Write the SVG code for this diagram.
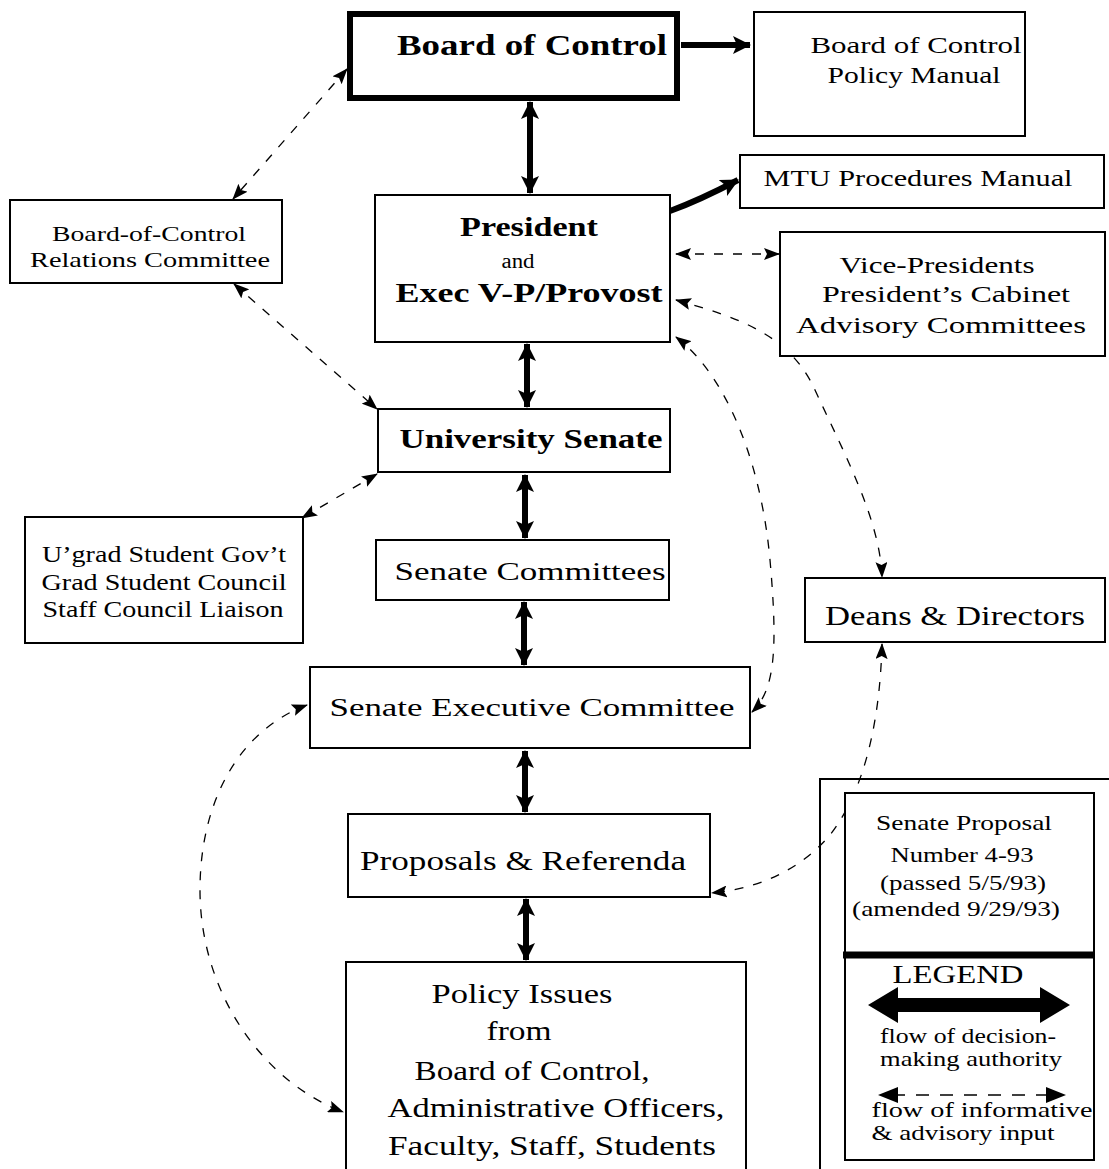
<svg xmlns="http://www.w3.org/2000/svg" width="1109" height="1169" viewBox="0 0 1109 1169">
<style>
.box{fill:#fff;stroke:#000;stroke-width:2}
.t{font-family:"Liberation Serif","Times New Roman",serif;fill:#000;text-anchor:middle}
.b{font-weight:bold}
.thick{fill:none;stroke:#000;stroke-width:6}
.dash{fill:none;stroke:#000;stroke-width:1.3;stroke-dasharray:9 10}
</style>
<defs>
<marker id="ah" viewBox="0 0 18 18" refX="17" refY="9" markerWidth="18" markerHeight="18" markerUnits="userSpaceOnUse" orient="auto-start-reverse">
<path d="M0,0 L18,9 L0,18 L4,9 z" fill="#000"/>
</marker>
<marker id="dh" viewBox="0 0 16 12" refX="15" refY="6" markerWidth="16" markerHeight="12" markerUnits="userSpaceOnUse" orient="auto-start-reverse">
<path d="M0,0 L16,6 L0,12 L3,6 z" fill="#000"/>
</marker>
</defs>
<rect width="1109" height="1169" fill="#fff"/>

<g id="connectors">
<path class="thick" d="M681,45 L750,45" marker-end="url(#ah)"/>
<path class="thick" d="M530,102 L530,193" marker-start="url(#ah)" marker-end="url(#ah)"/>
<path class="thick" d="M670,211 Q700,200 738,180" marker-end="url(#ah)"/>
<path class="thick" d="M527,344 L527,407" marker-start="url(#ah)" marker-end="url(#ah)"/>
<path class="thick" d="M525,475 L525,538" marker-start="url(#ah)" marker-end="url(#ah)"/>
<path class="thick" d="M524,602 L524,665" marker-start="url(#ah)" marker-end="url(#ah)"/>
<path class="thick" d="M525,751 L525,812" marker-start="url(#ah)" marker-end="url(#ah)"/>
<path class="thick" d="M526,899 L526,960" marker-start="url(#ah)" marker-end="url(#ah)"/>
<path class="dash" d="M347,69 L233,199" marker-start="url(#dh)" marker-end="url(#dh)"/>
<path class="dash" d="M234,284 L377,409" marker-start="url(#dh)" marker-end="url(#dh)"/>
<path class="dash" d="M377,474 L302,518" marker-start="url(#dh)" marker-end="url(#dh)"/>
<path class="dash" d="M676,254 L779,254" marker-start="url(#dh)" marker-end="url(#dh)"/>
<path class="dash" d="M676,300 C740,318 790,335 815,390 C845,455 880,520 882,577" marker-start="url(#dh)" marker-end="url(#dh)"/>
<path class="dash" d="M676,337 C720,370 760,450 770,560 C778,650 775,690 752,712" marker-start="url(#dh)" marker-end="url(#dh)"/>
<path class="dash" d="M307,705 C240,730 200,800 200,890 C200,990 260,1080 343,1112" marker-start="url(#dh)" marker-end="url(#dh)"/>
<path class="dash" d="M882,644 C880,720 865,790 830,835 C800,870 760,888 712,893" marker-start="url(#dh)" marker-end="url(#dh)"/>
</g>

<g id="board">
<rect x="350" y="14" width="327" height="84" fill="#fff" stroke="#000" stroke-width="6"/>
<text class="t b" x="532" y="55" font-size="30" textLength="270" lengthAdjust="spacingAndGlyphs">Board of Control</text>
</g>
<g id="policy-manual">
<rect class="box" x="754" y="12" width="271" height="124"/>
<text class="t" x="916" y="53" font-size="24" textLength="211" lengthAdjust="spacingAndGlyphs">Board of Control</text>
<text class="t" x="914" y="83" font-size="24" textLength="173" lengthAdjust="spacingAndGlyphs">Policy Manual</text>
</g>
<g id="mtu-manual">
<rect class="box" x="740" y="155" width="364" height="53"/>
<text class="t" x="918" y="186" font-size="24" textLength="309" lengthAdjust="spacingAndGlyphs">MTU  Procedures  Manual</text>
</g>
<g id="relations">
<rect class="box" x="10" y="200" width="272" height="83"/>
<text class="t" x="149" y="241" font-size="22" textLength="194" lengthAdjust="spacingAndGlyphs">Board-of-Control</text>
<text class="t" x="150" y="267" font-size="22" textLength="240" lengthAdjust="spacingAndGlyphs">Relations  Committee</text>
</g>
<g id="president">
<rect class="box" x="375" y="195" width="295" height="147"/>
<text class="t b" x="529" y="236" font-size="28" textLength="138" lengthAdjust="spacingAndGlyphs">President</text>
<text class="t" x="518" y="268" font-size="20" textLength="33" lengthAdjust="spacingAndGlyphs">and</text>
<text class="t b" x="529" y="302" font-size="28" textLength="267" lengthAdjust="spacingAndGlyphs">Exec  V-P/Provost</text>
</g>
<g id="vice-presidents">
<rect class="box" x="780" y="232" width="325" height="124"/>
<text class="t" x="937" y="273" font-size="24" textLength="195" lengthAdjust="spacingAndGlyphs">Vice-Presidents</text>
<text class="t" x="946" y="302" font-size="24" textLength="248" lengthAdjust="spacingAndGlyphs">President’s  Cabinet</text>
<text class="t" x="941" y="333" font-size="24" textLength="290" lengthAdjust="spacingAndGlyphs">Advisory    Committees</text>
</g>
<g id="university-senate">
<rect class="box" x="378" y="409" width="292" height="63"/>
<text class="t b" x="531" y="448" font-size="28" textLength="263" lengthAdjust="spacingAndGlyphs">University  Senate</text>
</g>
<g id="student-gov">
<rect class="box" x="25" y="517" width="278" height="126"/>
<text class="t" x="164" y="562" font-size="23" textLength="244" lengthAdjust="spacingAndGlyphs">U’grad Student Gov’t</text>
<text class="t" x="164" y="590" font-size="23" textLength="245" lengthAdjust="spacingAndGlyphs">Grad Student Council</text>
<text class="t" x="163" y="617" font-size="23" textLength="241" lengthAdjust="spacingAndGlyphs">Staff Council Liaison</text>
</g>
<g id="senate-committees">
<rect class="box" x="376" y="540" width="293" height="60"/>
<text class="t" x="530" y="580" font-size="25" textLength="271" lengthAdjust="spacingAndGlyphs">Senate  Committees</text>
</g>
<g id="deans">
<rect class="box" x="805" y="578" width="300" height="64"/>
<text class="t" x="955" y="625" font-size="27" textLength="260" lengthAdjust="spacingAndGlyphs">Deans &amp; Directors</text>
</g>
<g id="senate-exec">
<rect class="box" x="310" y="667" width="440" height="81"/>
<text class="t" x="532" y="716" font-size="25" textLength="405" lengthAdjust="spacingAndGlyphs">Senate  Executive  Committee</text>
</g>
<g id="proposals">
<rect class="box" x="348" y="814" width="362" height="83"/>
<text class="t" x="523" y="870" font-size="27" textLength="326" lengthAdjust="spacingAndGlyphs">Proposals  &amp;  Referenda</text>
</g>
<g id="policy-issues">
<rect class="box" x="346" y="962" width="400" height="220"/>
<text class="t" x="522" y="1003" font-size="27" textLength="181" lengthAdjust="spacingAndGlyphs">Policy Issues</text>
<text class="t" x="519" y="1040" font-size="27" textLength="65" lengthAdjust="spacingAndGlyphs">from</text>
<text class="t" x="532" y="1080" font-size="27" textLength="235" lengthAdjust="spacingAndGlyphs">Board of Control,</text>
<text class="t" x="556" y="1117" font-size="27" textLength="337" lengthAdjust="spacingAndGlyphs">Administrative  Officers,</text>
<text class="t" x="552" y="1155" font-size="27" textLength="328" lengthAdjust="spacingAndGlyphs">Faculty,  Staff,  Students</text>
</g>
<g id="legend">
<rect x="820" y="779" width="300" height="400" fill="none" stroke="#000" stroke-width="2"/>
<rect class="box" x="845" y="793" width="249" height="367"/>
<line x1="843" y1="955" x2="1095" y2="955" stroke="#000" stroke-width="7"/>
<text class="t" x="964" y="830" font-size="22" textLength="176" lengthAdjust="spacingAndGlyphs">Senate Proposal</text>
<text class="t" x="962" y="862" font-size="22" textLength="143" lengthAdjust="spacingAndGlyphs">Number 4-93</text>
<text class="t" x="963" y="890" font-size="22" textLength="166" lengthAdjust="spacingAndGlyphs">(passed 5/5/93)</text>
<text class="t" x="956" y="916" font-size="22" textLength="208" lengthAdjust="spacingAndGlyphs">(amended 9/29/93)</text>
<text class="t" x="958" y="983" font-size="25" textLength="131" lengthAdjust="spacingAndGlyphs">LEGEND</text>
<path d="M868,1005 L898,987 L898,998 L1040,998 L1040,987 L1070,1005 L1040,1023 L1040,1012 L898,1012 L898,1023 z" fill="#000"/>
<text class="t" x="968" y="1043" font-size="21" textLength="176" lengthAdjust="spacingAndGlyphs">flow of decision-</text>
<text class="t" x="971" y="1066" font-size="21" textLength="182" lengthAdjust="spacingAndGlyphs">making authority</text>
<line x1="892" y1="1095" x2="1050" y2="1095" stroke="#000" stroke-width="1.5" stroke-dasharray="13 11"/>
<path d="M878,1095 L898,1087 L898,1103 z" fill="#000"/>
<path d="M1066,1095 L1046,1087 L1046,1103 z" fill="#000"/>
<text class="t" x="982" y="1117" font-size="22" textLength="221" lengthAdjust="spacingAndGlyphs">flow of informative</text>
<text class="t" x="963" y="1140" font-size="22" textLength="183" lengthAdjust="spacingAndGlyphs">&amp; advisory input</text>
</g>
</svg>
